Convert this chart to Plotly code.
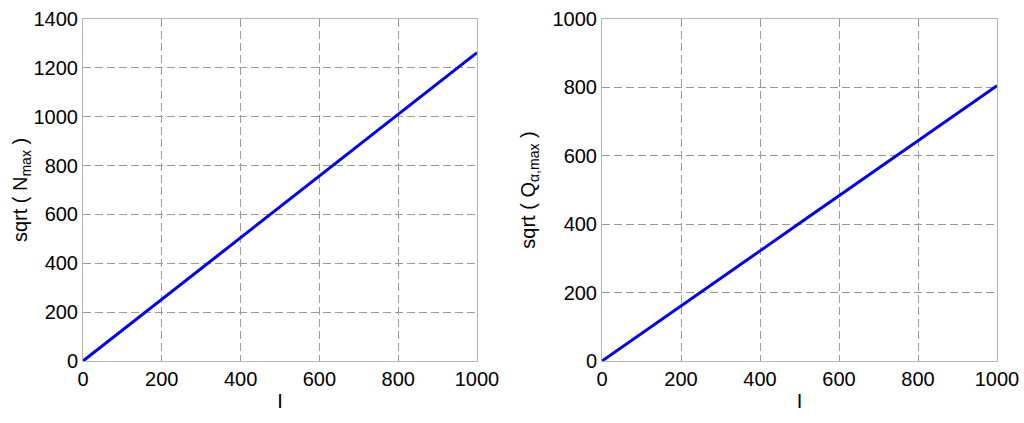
import plotly.graph_objects as go
from plotly.subplots import make_subplots

I_vals = [0, 100, 200, 300, 400, 500, 600, 700, 800, 900, 1000]
sqrt_N_max = [0, 126, 253, 379, 505, 631, 758, 884, 1010, 1136, 1262]
sqrt_Q_alpha_max = [0, 80, 161, 242, 322, 403, 483, 564, 644, 725, 805]

x_ticks = [0, 200, 400, 600, 800, 1000]
y_ticks_left = [0, 200, 400, 600, 800, 1000, 1200, 1400]
y_ticks_right = [0, 200, 400, 600, 800, 1000]

fig = make_subplots(rows=1, cols=2)
fig.add_trace(go.Scatter(x=I_vals, y=sqrt_N_max, mode="lines",
                         line=dict(color="#0000ff", width=3), showlegend=False), row=1, col=1)
fig.add_trace(go.Scatter(x=I_vals, y=sqrt_Q_alpha_max, mode="lines",
                         line=dict(color="#0000ff", width=3), showlegend=False), row=1, col=2)

font = dict(family="Liberation Sans, Arial, sans-serif", size=20, color="black")
axis_common = dict(showline=True, linecolor="#b4b4b4", linewidth=1, mirror=True,
                   showgrid=True, gridcolor="#9a9a9a", gridwidth=1, griddash="8px,4px",
                   zeroline=False, ticks="", tickfont=font, automargin=False)

fig.update_xaxes(**axis_common, range=[0, 1000], tickvals=x_ticks,
                 title=dict(text="I", font=font, standoff=4))
fig.update_xaxes(domain=[83/1024, 477/1024], row=1, col=1)
fig.update_xaxes(domain=[602/1024, 997/1024], row=1, col=2)
fig.update_yaxes(**axis_common)
fig.update_yaxes(range=[0, 1400], tickvals=y_ticks_left,
                 title=dict(text="sqrt ( N<sub>max</sub> )", font=font, standoff=0), row=1, col=1)
fig.update_yaxes(range=[0, 1000], tickvals=y_ticks_right,
                 title=dict(text="sqrt ( Q<sub>α,max</sub> )", font=font, standoff=11), row=1, col=2)

fig.update_layout(width=1024, height=423, paper_bgcolor="white", plot_bgcolor="white",
                  margin=dict(l=0, r=0, t=19, b=62), font=font)
fig.write_html("out.html", config={"displayModeBar": False},
               post_script="document.body.style.margin='0';document.body.style.overflow='hidden';")
